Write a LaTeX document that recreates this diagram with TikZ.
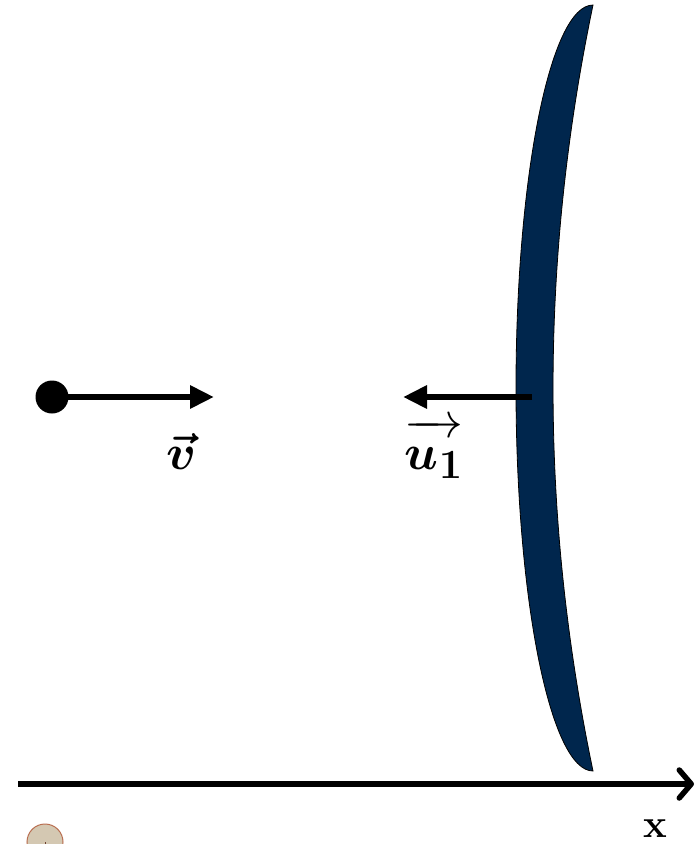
\documentclass[tikz,border=0pt]{standalone}
\usepackage{amsmath}
\usepackage{bm}
\usepackage{fontspec}
\usetikzlibrary{arrows.meta}
\definecolor{mirror}{RGB}{0,38,77}
\definecolor{coinfill}{RGB}{212,200,178}
\definecolor{coinedge}{RGB}{185,110,80}
\tikzset{
  vecarrow/.style={line width=6pt,-{Triangle[length=24pt,width=22pt]}},
  axisarrow/.style={line width=5.5pt,-{Straight Barb[length=12pt,width=28pt,line cap=round,line join=round]}},
  biglabel/.style={inner sep=0pt,font=\Huge,scale=2.0}
}
\begin{document}
\begin{tikzpicture}[x=1pt,y=-1pt]
\useasboundingbox (0,0) rectangle (698,844);
\fill[white] (0,0) rectangle (698,844);
% mirror
\fill[mirror,draw=black,line width=0.8pt]
  (593,771) arc[start angle=90,end angle=270,x radius=77,y radius=383]
  .. controls (539.7,260.3) and (539.7,515.7) .. (593,771) -- cycle;
% particle and velocity
\node[circle,fill=black,inner sep=0pt,minimum size=33pt] (p) at (52,397) {};
\coordinate (vend) at (214,397);
\draw[vecarrow] (p.center) -- (vend);
\node[biglabel] (vlab) at (181,451) {$\bm{\vec{v}}$};
% mirror velocity
\coordinate (ustart) at (532,397);
\coordinate (uend) at (403,397);
\draw[vecarrow] (ustart) -- (uend);
\node[biglabel] (ulab) at (434,449) {$\overrightarrow{\bm{u}_{\bm{1}}\vphantom{\bm{t}}}$};
% axis
\coordinate (x0) at (18,784);
\coordinate (x1) at (694,784);
\draw[axisarrow] (x0) -- (x1);
\node[inner sep=0pt,font=\fontsize{40}{44}\selectfont\bfseries] (xlab) at (655,829) {x};
% small disc
\node[circle,fill=coinfill,draw=coinedge,line width=1pt,inner sep=0pt,minimum size=36pt] (coin) at (45,842) {};
\draw[coinedge!60!black,line width=0.8pt] (coin.center) -- ++(0,4);
\end{tikzpicture}
\end{document}
